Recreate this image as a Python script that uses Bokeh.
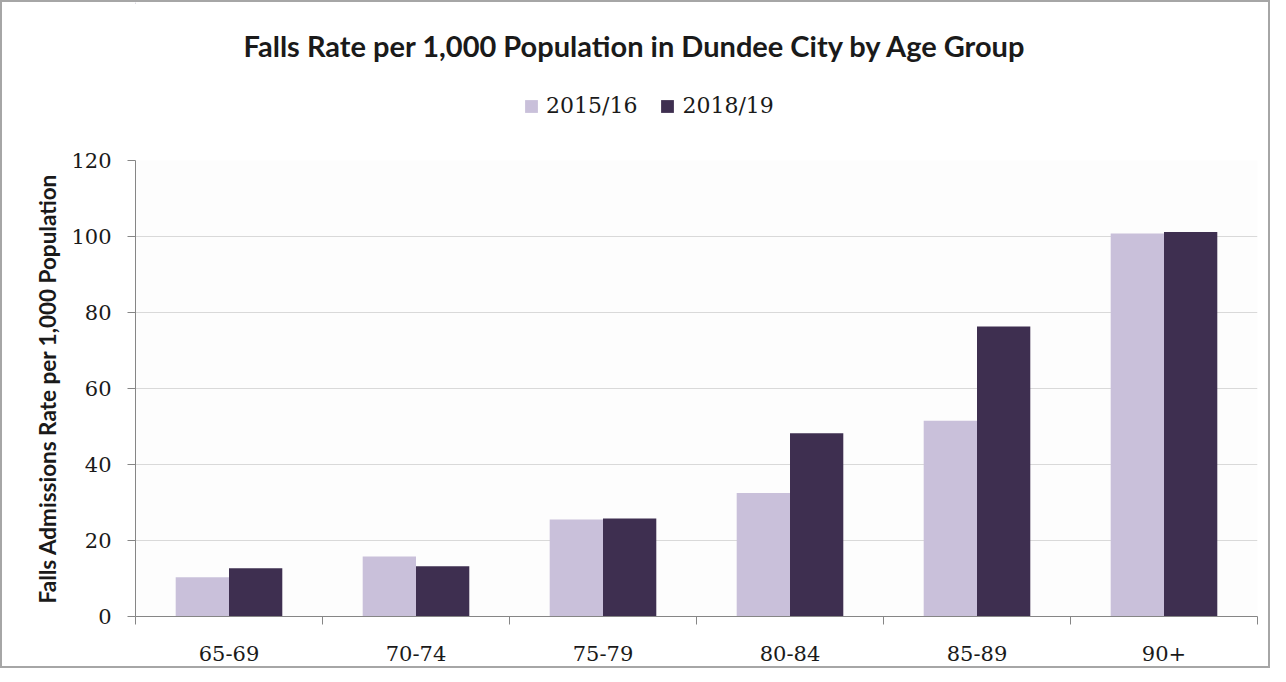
from bokeh.plotting import figure
from bokeh.models import (FixedTicker, Legend, LegendItem, ColumnDataSource, Range1d, Label)
from bokeh.layouts import column
from bokeh.embed import file_html
from bokeh.resources import INLINE

categories = ["65-69", "70-74", "75-79", "80-84", "85-89", "90+"]
series_names = ["2015/16", "2018/19"]
rate_2015 = [10.3, 15.8, 25.5, 32.5, 51.5, 100.8]
rate_2018 = [12.7, 13.2, 25.8, 48.2, 76.3, 101.2]
y_ticks = [0, 20, 40, 60, 80, 100, 120]
title_text = "Falls Rate per 1,000 Population in Dundee City by Age Group"
y_label = "Falls Admissions Rate per 1,000 Population"

LIGHT = "#c9c0da"
DARK = "#3e2f50"
GRID = "#d9d9d9"
AXIS = "#868686"
TEXT = "#1a1a1a"
W = 1266
HEAD_H = 146
LEFT, FRAME_W, RIGHT = 133, 1122, 11

# ---------- header: title + legend ----------
head = figure(width=W, height=HEAD_H, output_backend="svg", toolbar_location=None,
              x_range=Range1d(LEFT, LEFT + FRAME_W), y_range=Range1d(HEAD_H, 0),
              min_border_left=LEFT, min_border_right=RIGHT, min_border_top=0, min_border_bottom=0,
              x_axis_location=None, y_axis_location=None)
head.title = None
head.outline_line_color = None
head.grid.visible = False
head.background_fill_color = "white"
head.border_fill_color = "white"

head.add_layout(Label(x=W / 2, y=43, text=title_text, text_align="center",
                      text_baseline="middle", text_font="Lato", text_font_style="bold",
                      text_font_size="29px", text_color=TEXT))

# proxy renderers (kept outside the visible range) that only feed the legend swatches
proxy = ColumnDataSource(dict(x=[-1e6], top=[1]))
d1 = head.vbar(x="x", top="top", width=1, source=proxy, fill_color=LIGHT, line_color=None)
d2 = head.vbar(x="x", top="top", width=1, source=proxy, fill_color=DARK, line_color=None)
legend = Legend(items=[LegendItem(label=series_names[0], renderers=[d1]),
                       LegendItem(label=series_names[1], renderers=[d2])],
                orientation="horizontal", location=(388, 30),
                label_text_font="DejaVu Serif", label_text_font_size="22px",
                label_text_color=TEXT,
                glyph_width=16, glyph_height=16, spacing=22, label_standoff=7,
                border_line_color=None, background_fill_alpha=0,
                margin=0, padding=0)
head.add_layout(legend, "center")

# ---------- main chart ----------
p = figure(frame_width=FRAME_W, frame_height=456, output_backend="svg", toolbar_location=None,
           x_range=Range1d(0, len(categories)), y_range=Range1d(0, 120),
           min_border_left=LEFT, min_border_right=RIGHT, min_border_top=12, min_border_bottom=50)
p.title = None
p.outline_line_color = None
p.background_fill_color = "#fdfdfd"
p.border_fill_color = "white"

centers = [i + 0.5 for i in range(len(categories))]
src = ColumnDataSource(dict(
    x1=[c - 0.1425 for c in centers], x2=[c + 0.1425 for c in centers],
    a=rate_2015, b=rate_2018))

p.vbar(x="x1", top="a", width=0.285, bottom=0, source=src, fill_color=LIGHT, line_color=None)
p.vbar(x="x2", top="b", width=0.285, bottom=0, source=src, fill_color=DARK, line_color=None)

# x axis
p.xaxis.ticker = FixedTicker(ticks=centers, minor_ticks=list(range(len(categories) + 1)))
p.xaxis.major_label_overrides = {c: lab for c, lab in zip(centers, categories)}
p.xaxis.major_tick_out = 0
p.xaxis.major_tick_in = 0
p.xaxis.minor_tick_out = 8
p.xaxis.minor_tick_in = 0
p.xaxis.minor_tick_line_color = AXIS
p.xaxis.axis_line_color = AXIS
p.xaxis.major_label_standoff = 21
p.xaxis.major_label_text_font = "DejaVu Serif"
p.xaxis.major_label_text_font_size = "21px"
p.xaxis.major_label_text_color = TEXT
p.xgrid.grid_line_color = None

# y axis
p.yaxis.ticker = FixedTicker(ticks=y_ticks, minor_ticks=[])
p.yaxis.major_tick_out = 8
p.yaxis.major_tick_in = 0
p.yaxis.major_tick_line_color = AXIS
p.yaxis.axis_line_color = AXIS
p.yaxis.major_label_standoff = 16
p.yaxis.major_label_text_font = "DejaVu Serif"
p.yaxis.major_label_text_font_size = "21px"
p.yaxis.major_label_text_color = TEXT
p.yaxis.axis_label = y_label
p.yaxis.axis_label_text_font = "Lato"
p.yaxis.axis_label_text_font_style = "bold"
p.yaxis.axis_label_text_font_size = "22.5px"
p.yaxis.axis_label_text_color = TEXT
p.yaxis.axis_label_standoff = 7
p.ygrid.grid_line_color = GRID
p.ygrid.grid_line_width = 1

layout = column(head, p, spacing=0)
layout.styles = {"border": "2px solid #a6a6a6"}
open("out.html", "w").write(file_html(layout, INLINE))
